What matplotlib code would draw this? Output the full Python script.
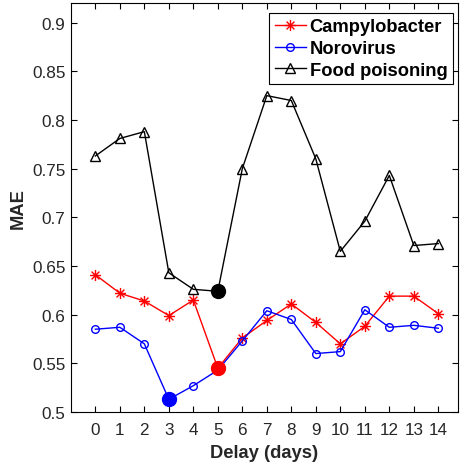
import numpy as np
import matplotlib
matplotlib.use("Agg")
import matplotlib.pyplot as plt
from matplotlib.path import Path

delay = list(range(15))
campylobacter = [0.641, 0.622, 0.614, 0.599, 0.615, 0.545, 0.576, 0.594, 0.611, 0.592, 0.570, 0.588, 0.619, 0.619, 0.601]
norovirus = [0.585, 0.587, 0.570, 0.513, 0.527, 0.543, 0.573, 0.604, 0.595, 0.560, 0.562, 0.605, 0.587, 0.589, 0.586]
food_poisoning = [0.763, 0.781, 0.788, 0.643, 0.626, 0.624, 0.750, 0.825, 0.820, 0.760, 0.665, 0.696, 0.743, 0.671, 0.673]

plt.rcParams['font.family'] = ['Liberation Sans', 'DejaVu Sans']

# matlab style asterisk: plus and cross on top of each other
d = 0.7071
asterisk = Path([(-1, 0), (1, 0), (0, -1), (0, 1), (-d, -d), (d, d), (-d, d), (d, -d)],
                [Path.MOVETO, Path.LINETO] * 4)

fig = plt.figure(figsize=(4.63, 4.64), dpi=100)
ax = fig.add_axes([0.153, 0.110, 0.836, 0.881])

series = [
    (campylobacter, 'red', asterisk, 'Campylobacter', 8),
    (norovirus, 'blue', 'o', 'Norovirus', 5.5),
    (food_poisoning, 'black', '^', 'Food poisoning', 7),
]
for vals, col, mk, name, ms in series:
    ax.plot(delay, vals, color=col, marker=mk, markersize=ms, linewidth=1,
            markerfacecolor='none', markeredgewidth=1, label=name)
    # highlight the minimum
    i = int(np.argmin(vals))
    ax.plot(delay[i], vals[i], 'o', color=col, markersize=10, zorder=5)

ax.set_xlim(-1, 14.8)
ax.set_ylim(0.5, 0.92)
ax.set_xticks(delay)
ax.set_yticks(np.arange(0.5, 0.901, 0.05))
ax.set_yticklabels(['0.5', '0.55', '0.6', '0.65', '0.7', '0.75', '0.8', '0.85', '0.9'])
ax.tick_params(direction='in', top=True, right=True, labelsize=12.3,
               labelcolor='#262626', length=4)
ax.tick_params(axis='x', pad=7.5)
ax.tick_params(axis='y', pad=4)
ax.set_xlabel('Delay (days)', fontsize=13.2, fontweight='bold', color='#262626', labelpad=5)
ax.set_ylabel('MAE', fontsize=13.2, fontweight='bold', color='#262626', labelpad=4)

leg = ax.legend(loc='upper right', bbox_to_anchor=(0.987, 0.976),
                prop={'weight': 'bold', 'size': 13.2},
                fancybox=False, framealpha=1, edgecolor='black',
                handlelength=1.7, handletextpad=0.2, borderpad=0.3,
                labelspacing=0.25, borderaxespad=0)
leg.get_frame().set_linewidth(0.8)

fig.savefig('out.png', dpi=100)
